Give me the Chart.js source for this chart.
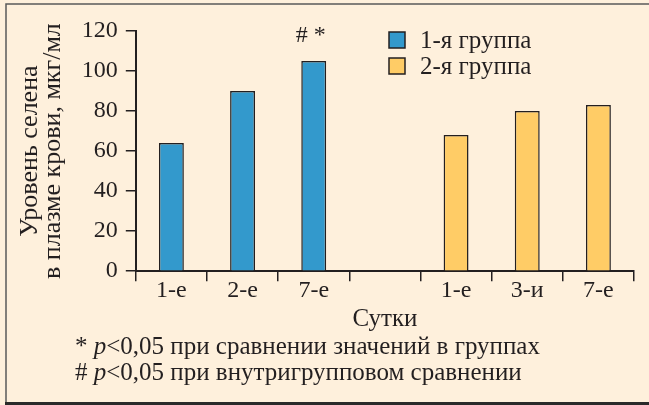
<!DOCTYPE html>
<html>
<head>
<meta charset="utf-8">
<script src="https://cdn.jsdelivr.net/npm/chart.js@4.4.1/dist/chart.umd.min.js"></script>
<style>
html, body { margin: 0; padding: 0; background: #fef0dc; }
#wrap { width: 649px; height: 405px; position: relative; }
</style>
</head>
<body>
<div id="wrap"><canvas id="selen"></canvas></div>
<script>
// data
var days = ['1-е', '2-е', '7-е', '', '1-е', '3-и', '7-е'];
var group1 = [64, 90, 105, null, null, null, null];
var group2 = [null, null, null, null, 68, 80, 83];
var group1Marks = ['', '', '# *', '', '', '', ''];
var groupNames = ['1-я группа', '2-я группа'];
var notes = [
    ['* ', 'p', '<0,05 при сравнении значений в группах'],
    ['# ', 'p', '<0,05 при внутригрупповом сравнении']
];

var ink = '#231f20';
var serif = "'Liberation Serif', 'Times New Roman', serif";
var blue = '#3399cc';
var yellow = '#ffcc66';

Chart.defaults.font.family = serif;
Chart.defaults.color = ink;

// cream background + frame lines
var frame = {
    id: 'frame',
    beforeDraw: function (chart) {
        var c = chart.ctx;
        c.save();
        c.fillStyle = '#fef0dc';
        c.fillRect(0, 0, chart.width, chart.height);
        c.strokeStyle = '#5a5a5a';
        c.lineWidth = 1.5;
        c.beginPath();
        c.moveTo(6, 403);
        c.lineTo(6, 4);
        c.lineTo(chart.width, 4);
        c.stroke();
        c.strokeStyle = '#2a2a2a';
        c.lineWidth = 3;
        c.beginPath();
        c.moveTo(5, 403.5);
        c.lineTo(chart.width, 403.5);
        c.stroke();
        c.restore();
    }
};

// legend, significance marks, footnotes
var extras = {
    id: 'extras',
    afterDraw: function (chart) {
        var c = chart.ctx;
        var area = chart.chartArea;
        c.save();
        c.font = '25px ' + serif;
        c.textBaseline = 'middle';
        c.fillStyle = ink;

        // legend
        var lx = area.right - 245;
        chart.data.datasets.forEach(function (ds, i) {
            var cy = 40 + i * 26;
            c.fillStyle = ds.backgroundColor;
            c.fillRect(lx, cy - 8, 16, 16);
            c.strokeStyle = ink;
            c.lineWidth = 1.5;
            c.strokeRect(lx, cy - 8, 16, 16);
            c.fillStyle = ink;
            c.textAlign = 'left';
            c.fillText(ds.label, lx + 31, cy + 1);
        });

        // marks above bars
        var meta = chart.getDatasetMeta(0);
        c.font = '24px ' + serif;
        c.textAlign = 'center';
        c.textBaseline = 'alphabetic';
        group1Marks.forEach(function (m, i) {
            if (!m) return;
            var bar = meta.data[i];
            c.fillText(m, bar.x - 3, bar.y - 19);
        });

        // footnotes
        c.textAlign = 'left';
        notes.forEach(function (parts, i) {
            var x = 75;
            var y = 354 + i * 26;
            parts.forEach(function (p, j) {
                c.font = (j === 1 ? 'italic ' : '') + '25px ' + serif;
                c.fillText(p, x, y);
                x += c.measureText(p).width;
            });
        });
        c.restore();
    }
};

var ctx = document.getElementById('selen');

var myChart = new Chart(ctx, {
    type: 'bar',
    data: {
        labels: days,
        datasets: [{
            label: groupNames[0],
            data: group1,
            backgroundColor: blue,
            borderColor: ink,
            borderWidth: 1.5,
            grouped: false
        }, {
            label: groupNames[1],
            data: group2,
            backgroundColor: yellow,
            borderColor: ink,
            borderWidth: 1.5,
            grouped: false
        }]
    },
    options: {
        responsive: true,
        maintainAspectRatio: false,
        animation: false,
        categoryPercentage: 1,
        barPercentage: 0.35,
        layout: {
            padding: { top: 31, right: 15, bottom: 71, left: 18 }
        },
        plugins: {
            legend: { display: false },
            tooltip: { enabled: false }
        },
        scales: {
            x: {
                grid: {
                    offset: true,
                    drawOnChartArea: false,
                    tickLength: 10,
                    color: ink,
                    lineWidth: 1.5
                },
                border: { color: ink, width: 2 },
                ticks: {
                    font: { size: 24 },
                    padding: -5,
                    maxRotation: 0,
                    autoSkip: false
                },
                title: {
                    display: true,
                    text: 'Сутки',
                    font: { size: 25 },
                    padding: { top: 4, bottom: 0 }
                }
            },
            y: {
                min: 0,
                max: 120,
                grid: {
                    drawOnChartArea: false,
                    tickLength: 10,
                    color: ink,
                    lineWidth: 1.5
                },
                border: { color: ink, width: 2 },
                ticks: {
                    stepSize: 20,
                    font: { size: 24 },
                    padding: 8
                },
                title: {
                    display: true,
                    text: ['Уровень селена', 'в плазме крови, мкг/мл'],
                    font: { size: 26, lineHeight: 0.9 },
                    padding: { top: 0, bottom: 9 }
                }
            }
        }
    },
    plugins: [frame, extras]
});
</script>
</body>
</html>
